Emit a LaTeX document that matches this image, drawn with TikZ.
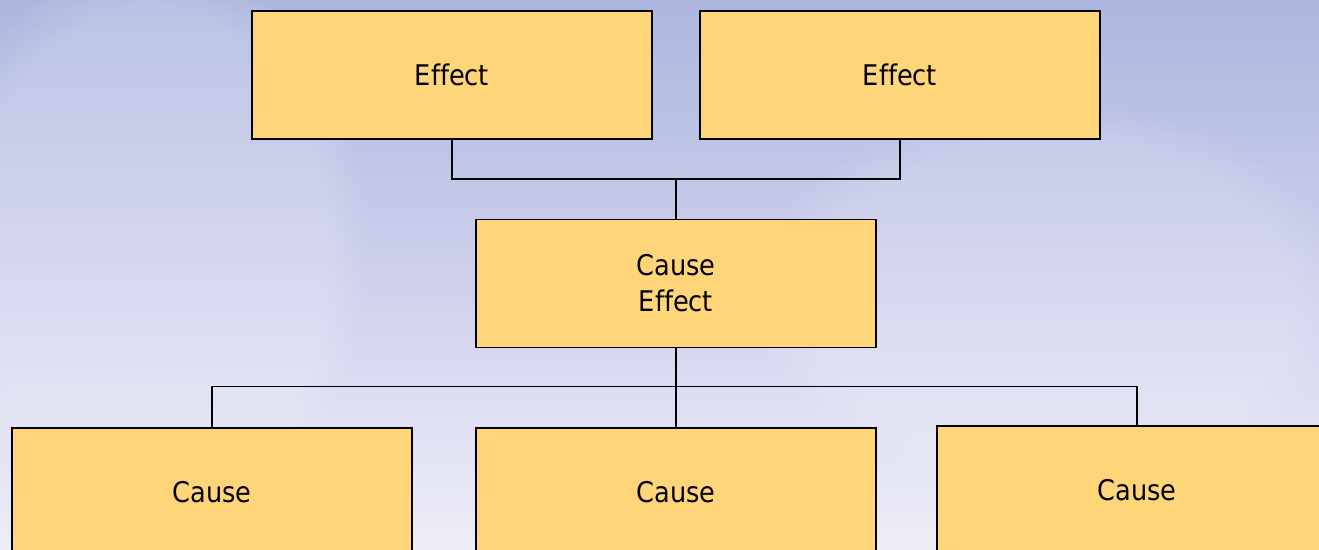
\documentclass[tikz,border=0pt]{standalone}
\usepackage{fontspec}
\setmainfont[Ligatures=NoCommon]{DejaVu Sans Condensed}
\usetikzlibrary{fadings}
\definecolor{boxfill}{RGB}{255,213,122}
\definecolor{skytop}{RGB}{172,182,222}
\definecolor{skymid}{RGB}{206,208,236}
\definecolor{skybot}{RGB}{238,238,247}
\tikzset{
  box/.style={draw=black, line width=1.1pt, fill=boxfill, minimum width=8cm, minimum height=2.56cm, inner sep=0pt, align=center, font=\fontsize{16.2}{20.4}\selectfont},
  link/.style={draw=black, line width=1.1pt}
}
\begin{document}
\begin{tikzpicture}[x=0.02cm,y=-0.02cm]
\useasboundingbox (0,0) rectangle (1319,550);
\clip (0,0) rectangle (1319,550);
\shade[top color=skytop, bottom color=skybot, middle color=skymid] (0,0) rectangle (1319,550);
\fill[white, opacity=0.18, path fading=circle with fuzzy edge 20 percent] (150,250) ellipse (220 and 300);
\fill[white, opacity=0.15, path fading=circle with fuzzy edge 20 percent] (1050,300) ellipse (300 and 200);
\node[box] (e1) at (452,75) {Effect};
\node[box] (e2) at (900,75) {Effect};
\node[box] (ce) at (676,283.5) {Cause\\Effect};
\node[box] (c1) at (212,492) {Cause};
\node[box] (c2) at (676,492) {Cause};
\node[box] (c3) at (1137,490) {Cause};
\coordinate (j1) at (676,179);
\coordinate (j2) at (676,386.5);
\draw[link] (e1.south) |- (j1) -| (e2.south);
\draw[link] (j1) -- (ce.north);
\draw[link] (ce.south) -- (j2);
\draw[link] (c1.north) |- (j2) -| (c3.north);
\draw[link] (j2) -- (c2.north);
\end{tikzpicture}
\end{document}
